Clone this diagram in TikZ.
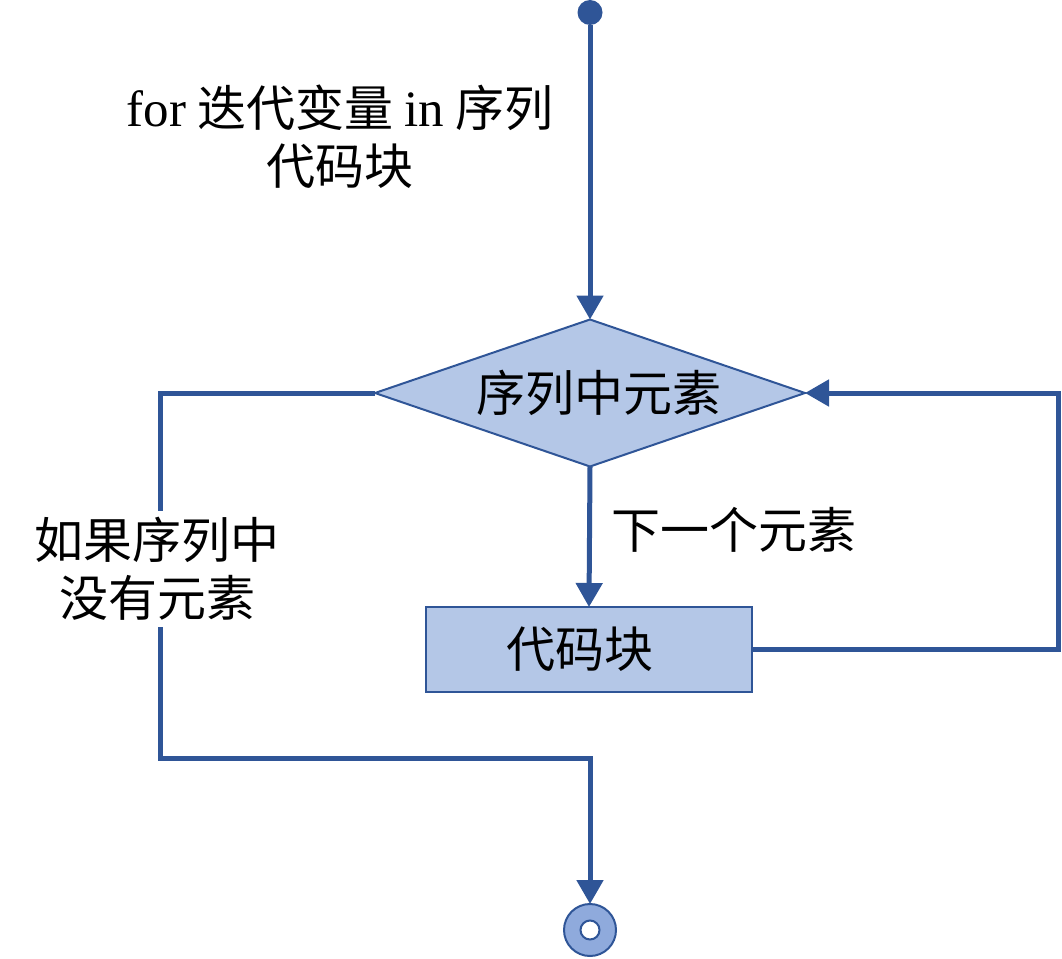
\documentclass[tikz,border=0pt]{standalone}
\usepackage{fontspec}
\setmainfont{Liberation Serif}
\newfontfamily\cjk{Noto Sans CJK SC}
\usetikzlibrary{shapes.geometric,arrows.meta}
\definecolor{lineblue}{HTML}{2F5597}
\definecolor{fillblue}{HTML}{B4C7E7}
\definecolor{endblue}{HTML}{8FAADC}
\newcommand{\bigfont}{\fontsize{49}{58}\selectfont}
\newcommand{\latinfont}{\fontsize{51}{58}\selectfont\rmfamily}
\tikzset{
  conn/.style={draw=lineblue,line width=5pt},
  tip/.style={-{Triangle[length=24pt,width=26pt]}},
  txt/.style={font=\bigfont\cjk,text=black,align=center,inner sep=0pt},
  decision/.style={diamond,draw=lineblue,line width=2pt,fill=fillblue,minimum width=430pt,minimum height=147pt,inner sep=0pt,outer sep=0pt,aspect=2.93,font=\bigfont\cjk},
  blockbox/.style={rectangle,draw=lineblue,line width=2pt,fill=fillblue,minimum width=326pt,minimum height=85pt,inner sep=0pt,outer sep=0pt,font=\bigfont\cjk},
}
\begin{document}
\begin{tikzpicture}[x=1pt,y=-1pt]
\useasboundingbox (0,0) rectangle (1062,958);
\node[circle,fill=lineblue,minimum size=25pt,inner sep=0pt,outer sep=0pt] (start) at (590,12.5) {};
\node[decision] (dia) at (590,393) {\hspace*{18pt}序列中元素};
\node[blockbox] (blk) at (589,649.5) {代码块\hspace*{18pt}};
\node[circle,draw=lineblue,line width=2pt,fill=endblue,minimum size=52pt,inner sep=0pt,outer sep=0pt] (end) at (590,930) {};
\node[circle,draw=lineblue,line width=2pt,fill=white,minimum size=19pt,inner sep=0pt] (endhole) at (590,930) {};
\coordinate (lc) at (160,758);
\coordinate (rc) at (1058,393);
\draw[conn,tip] (start) -- (dia.north);
\draw[conn,tip] (dia.south) -- (blk.north);
\draw[conn,tip] (blk.east) -| (rc) -- (dia.east);
\draw[conn,tip] (dia.west) -| (lc) -| (end.north);
\node[txt] (forlbl) at (340,137) {{\latinfont for} 迭代变量 {\latinfont in} 序列\\代码块};
\node[txt] (nextlbl) at (734,530) {下一个元素};
\node[txt,fill=white,inner sep=6pt] (emptylbl) at (157,569) {如果序列中\\没有元素};
\end{tikzpicture}
\end{document}
